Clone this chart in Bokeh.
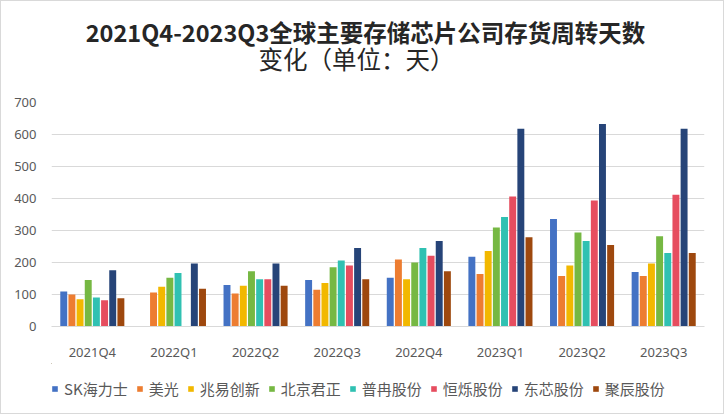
import math
from bokeh.plotting import figure
from bokeh.layouts import column
from bokeh.models import FactorRange, Range1d, Legend, LegendItem, Label, ColumnDataSource, SingleIntervalTicker
from bokeh.transform import dodge
from bokeh.embed import file_html
from bokeh.resources import INLINE

nan = float("nan")

quarters = ["2021Q4", "2022Q1", "2022Q2", "2022Q3", "2022Q4", "2023Q1", "2023Q2", "2023Q3"]
companies = ["SK海力士", "美光", "兆易创新", "北京君正", "普冉股份", "恒烁股份", "东芯股份", "聚辰股份"]
colors = ["#4472C4", "#ED7D31", "#F2B800", "#76B843", "#30C1B2", "#E64D5F", "#264478", "#9E480E"]

sk_hynix = [109, nan, 130, 145, 152, 218, 336, 170]
micron = [100, 106, 103, 115, 209, 164, 158, 158]
gigadevice = [85, 124, 127, 136, 148, 236, 191, 197]
ingenic = [145, 152, 173, 185, 200, 309, 294, 282]
puya = [91, 167, 148, 206, 245, 342, 267, 230]
zbit = [82, nan, 148, 191, 221, 406, 394, 412]
dosilicon = [176, 197, 197, 245, 267, 618, 633, 618]
giantec = [88, 118, 127, 148, 173, 279, 255, 230]

series = [sk_hynix, micron, gigadevice, ingenic, puya, zbit, dosilicon, giantec]

title_line1 = "2021Q4-2023Q3全球主要存储芯片公司存货周转天数"
title_line2 = "变化（单位：天）"

cjk = "Noto Sans CJK SC"
W = 722
LB, RB = 50, 19


def strip(h):
    f = figure(width=W, height=h, output_backend="svg", toolbar_location=None,
               x_axis_type=None, y_axis_type=None,
               x_range=Range1d(LB, W - RB), y_range=Range1d(h, 0),
               min_border_left=LB, min_border_right=RB, min_border_top=0, min_border_bottom=0)
    f.grid.grid_line_color = None
    f.outline_line_color = None
    return f


# title strip (coordinates = pixels of the chart)
tf = strip(90)
tf.add_layout(Label(x=364, y=30, text=title_line1, text_align="center", text_baseline="middle",
                    text_font=cjk, text_font_size="23.5px", text_font_style="bold",
                    text_color="#262626"))
tf.add_layout(Label(x=355, y=57, text=title_line2, text_align="center", text_baseline="middle",
                    text_font=cjk, text_font_size="24.5px", text_font_style="normal",
                    text_color="#262626"))

# main chart
src = {"q": quarters}
for i, s in enumerate(series):
    src["s%d" % i] = s
source = ColumnDataSource(src)

p = figure(width=W, height=272, output_backend="svg", toolbar_location=None,
           x_range=FactorRange(*quarters, range_padding=0), y_range=Range1d(0, 700),
           min_border_left=LB, min_border_right=RB, min_border_top=11, min_border_bottom=30)
p.outline_line_color = None

step = 0.1
width = 0.085
for i, col in enumerate(colors):
    off = (i - 3.5) * step
    p.vbar(x=dodge("q", off, range=p.x_range), top="s%d" % i, width=width,
           source=source, fill_color=col, line_color=None)

p.yaxis.ticker = SingleIntervalTicker(interval=100)
p.yaxis.axis_line_color = None
p.yaxis.major_tick_line_color = None
p.yaxis.minor_tick_line_color = None
p.yaxis.major_label_text_font = "Noto Sans"
p.yaxis.major_label_text_font_size = "13px"
p.yaxis.major_label_text_color = "#595959"
p.yaxis.major_label_standoff = 9

p.xaxis.axis_line_color = "#D9D9D9"
p.xaxis.major_tick_line_color = None
p.xaxis.minor_tick_line_color = None
p.xaxis.major_label_text_font = "Noto Sans"
p.xaxis.major_label_text_font_size = "13px"
p.xaxis.major_label_text_color = "#595959"
p.xaxis.major_label_standoff = 10

p.xgrid.grid_line_color = None
p.ygrid.grid_line_color = "#D9D9D9"

# legend strip
lf = strip(50)
items = []
for name, col in zip(companies, colors):
    r = lf.vbar(x=[-1000], top=[-1000], bottom=[-1001], width=1, fill_color=col, line_color=None)
    items.append(LegendItem(label=name, renderers=[r]))
legend = Legend(items=items, orientation="horizontal", location=(0, 14),
                label_text_font=cjk, label_text_font_size="15px", label_text_color="#595959",
                glyph_width=7, glyph_height=7, spacing=8, label_standoff=6,
                border_line_color=None, background_fill_alpha=0, padding=0, margin=0)
lf.add_layout(legend, "center")

layout = column(tf, p, lf, spacing=0, styles={"border": "1px solid #D9D9D9"})

open("out.html", "w").write(file_html(layout, INLINE))
